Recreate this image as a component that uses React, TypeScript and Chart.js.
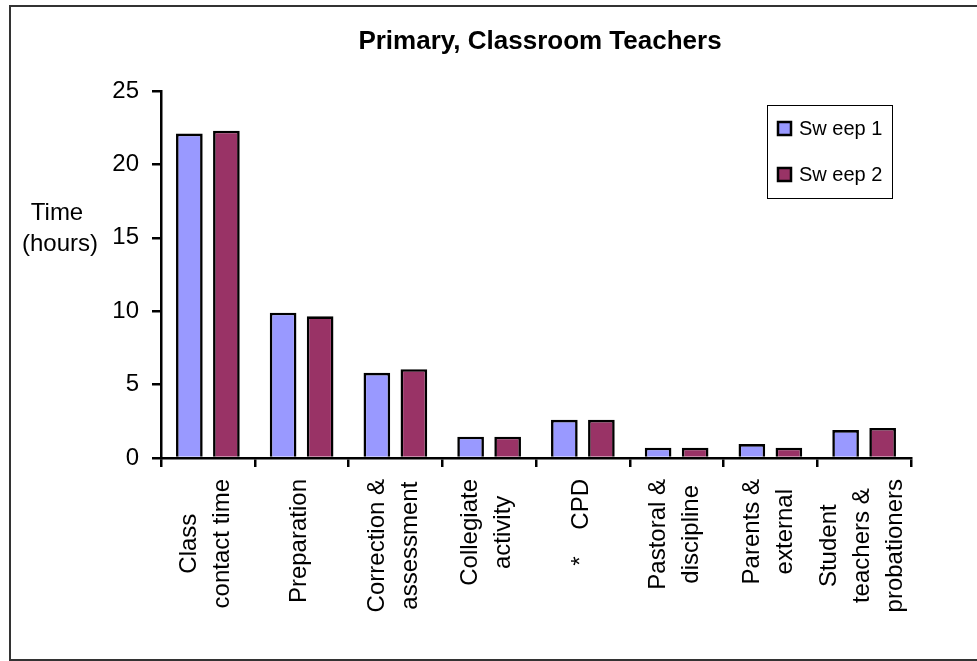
import React, { useEffect, useRef } from "react";
import { Chart, registerables } from "chart.js";

Chart.register(...registerables);

const categories: string[][] = [
  ["Class", "contact time"],
  ["Preparation"],
  ["Correction &", "assessment"],
  ["Collegiate", "activity"],
  ["*    CPD"],
  ["Pastoral &", "discipline"],
  ["Parents &", "external"],
  ["Student", "teachers &", "probationers"],
];
const sweep1: number[] = [22.1, 9.9, 5.8, 1.45, 2.6, 0.7, 0.95, 1.9];
const sweep2: number[] = [22.3, 9.65, 6.05, 1.45, 2.6, 0.7, 0.7, 2.05];
const seriesNames: string[] = ["Sw eep 1", "Sw eep 2"];
const titleText = "Primary, Classroom Teachers";
const yTitle: string[] = ["Time", "(hours)"];

const FONT = '"Liberation Sans", Arial, sans-serif';

const decorPlugin = {
  id: "decor",
  afterDraw(chart: any) {
    const ctx = chart.ctx as CanvasRenderingContext2D;
    const xs = chart.scales.x;
    const area = chart.chartArea;
    ctx.save();
    ctx.fillStyle = "#000";
    // title
    ctx.font = `bold 26px ${FONT}`;
    ctx.textAlign = "center";
    ctx.textBaseline = "alphabetic";
    ctx.fillText(titleText, (area.left + area.right) / 2 + 4, 49);
    // y axis title
    ctx.font = `24px ${FONT}`;
    ctx.fillText(yTitle[0], 57, 220);
    ctx.fillText(yTitle[1], 60, 251);
    // x labels (rotated, lines centered within block anchored to axis)
    ctx.font = `24px ${FONT}`;
    const lineGap = 33;
    categories.forEach((lines, i) => {
      const x = xs.getPixelForValue(i);
      const w = Math.max(...lines.map((l) => ctx.measureText(l).width));
      const top = xs.top + 21;
      ctx.save();
      ctx.translate(x - 2, top + w / 2);
      ctx.rotate(-Math.PI / 2);
      ctx.textAlign = "center";
      ctx.textBaseline = "middle";
      lines.forEach((l, j) => {
        ctx.fillText(l, 0, (j - (lines.length - 1) / 2) * lineGap);
      });
      ctx.restore();
    });
    // legend
    const lx = 767, ly = 105, lw = 125, lh = 93;
    ctx.lineWidth = 1;
    ctx.strokeStyle = "#000";
    ctx.fillStyle = "#fff";
    ctx.fillRect(lx, ly, lw, lh);
    ctx.strokeRect(lx + 0.5, ly + 0.5, lw, lh);
    ctx.font = `20px ${FONT}`;
    ctx.textAlign = "left";
    ctx.textBaseline = "alphabetic";
    chart.data.datasets.forEach((ds: any, k: number) => {
      const my = 122 + k * 46;
      ctx.fillStyle = ds.backgroundColor;
      ctx.fillRect(778, my, 13, 13);
      ctx.lineWidth = 2.5;
      ctx.strokeStyle = "#000";
      ctx.strokeRect(778, my, 13, 13);
      ctx.fillStyle = "#000";
      ctx.fillText(ds.label, 799, my + 13);
    });
    ctx.restore();
  },
};

export default function App() {
  const ref = useRef<HTMLCanvasElement | null>(null);
  useEffect(() => {
    if (!ref.current) return;
    const chart = new Chart(ref.current, {
      type: "bar",
      data: {
        labels: categories.map((c) => c.join(" ")),
        datasets: [
          {
            label: seriesNames[0],
            data: sweep1,
            backgroundColor: "#9999FF",
            borderColor: "#000",
            borderWidth: 2.6,
            categoryPercentage: 0.79,
            barPercentage: 0.72,
          },
          {
            label: seriesNames[1],
            data: sweep2,
            backgroundColor: "#993366",
            borderColor: "#000",
            borderWidth: 2.6,
            categoryPercentage: 0.79,
            barPercentage: 0.72,
          },
        ],
      },
      options: {
        responsive: false,
        animation: false,
        devicePixelRatio: 1,
        layout: { padding: { top: 91, right: 66, bottom: 0, left: 0 } },
        plugins: {
          legend: { display: false },
          title: { display: false },
          tooltip: { enabled: false },
        },
        scales: {
          x: {
            ticks: { display: false },
            grid: {
              drawOnChartArea: false,
              drawTicks: true,
              tickLength: 9,
              color: "#000",
              lineWidth: 2.5,
            },
            border: { display: true, color: "#000", width: 2.5 },
            afterFit: (s: any) => {
              s.height = 203;
            },
          },
          y: {
            min: 0,
            max: 25,
            ticks: {
              stepSize: 5,
              color: "#000",
              font: { size: 24, family: FONT },
              padding: 13,
            },
            grid: {
              drawOnChartArea: false,
              drawTicks: true,
              tickLength: 9,
              color: "#000",
              lineWidth: 2.5,
            },
            border: { display: true, color: "#000", width: 2.5 },
            afterFit: (s: any) => {
              s.width = 161;
            },
          },
        },
      },
      plugins: [decorPlugin],
    });
    return () => chart.destroy();
  }, []);
  return (
    <div
      style={{
        position: "fixed",
        left: 0,
        top: 0,
        width: 977,
        height: 661,
        overflow: "hidden",
        background: "#fff",
      }}
    >
      <canvas
        ref={ref}
        width={977}
        height={661}
        style={{ position: "absolute", left: 0, top: 0, width: 977, height: 661 }}
      />
      <div
        style={{
          position: "absolute",
          left: 9,
          top: 5,
          width: 1000,
          height: 656,
          boxSizing: "border-box",
          border: "2px solid #333",
          pointerEvents: "none",
        }}
      />
    </div>
  );
}
